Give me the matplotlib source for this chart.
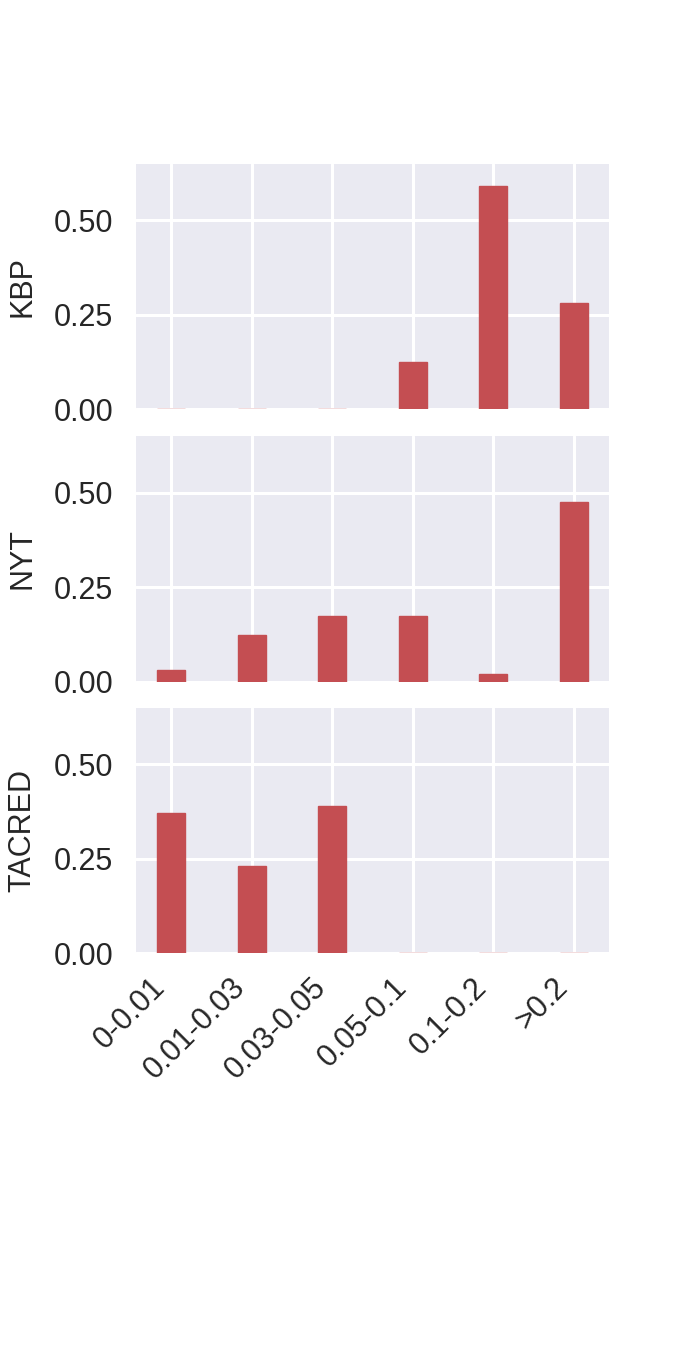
import numpy as np
import matplotlib
matplotlib.use("Agg")
import matplotlib.pyplot as plt
import seaborn as sns
from matplotlib.ticker import FormatStrFormatter

sns.set_style("darkgrid")
plt.rcParams['font.family'] = ['Liberation Sans', 'DejaVu Sans']

bins = ['0-0.01', '0.01-0.03', '0.03-0.05', '0.05-0.1', '0.1-0.2', '>0.2']
datasets = ['KBP', 'NYT', 'TACRED']
kbp = [0.0, 0.0, 0.0, 0.124, 0.592, 0.281]
nyt = [0.031, 0.123, 0.175, 0.175, 0.020, 0.476]
tacred = [0.371, 0.231, 0.390, 0.0, 0.0, 0.0]
values = [kbp, nyt, tacred]

bar_color = '#C44E52'

fig = plt.figure(figsize=(6.83, 13.64), dpi=100)
bottoms = [0.6999, 0.5002, 0.3013]
x = np.arange(len(bins))

for i in range(3):
    ax = fig.add_axes([0.1987, bottoms[i], 0.693, 0.18])
    ax.bar(x, values[i], width=0.35, color=bar_color, edgecolor=bar_color, linewidth=1.0)
    ax.set_ylim(0, 0.65)
    ax.set_xlim(-0.44, 5.44)
    ax.set_yticks([0.0, 0.25, 0.5])
    ax.yaxis.set_major_formatter(FormatStrFormatter('%.2f'))
    ax.set_xticks(x)
    ax.grid(True, color='white', linewidth=2.2)
    ax.tick_params(axis='both', length=0, labelsize=22, pad=16, labelcolor='#262626')
    ax.set_ylabel(datasets[i], fontsize=22, labelpad=12, color='#262626')
    if i < 2:
        ax.set_xticklabels([])
    else:
        ax.set_xticklabels(bins, rotation=45, ha='right')
        ax.tick_params(axis='x', pad=14)
    for s in ax.spines.values():
        s.set_visible(False)

fig.savefig('out.png', dpi=100)
